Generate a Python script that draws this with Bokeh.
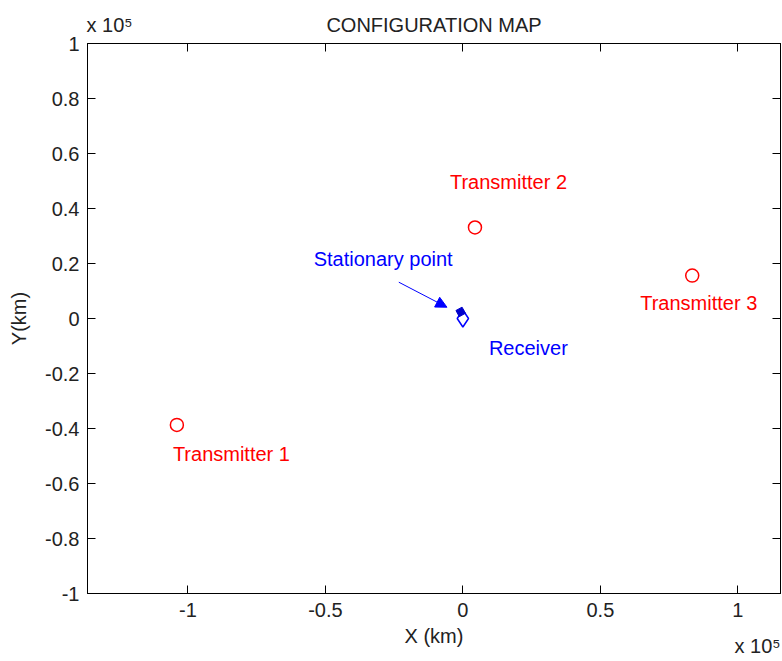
from bokeh.plotting import figure
from bokeh.models import (FixedTicker, CustomJSTickFormatter, LinearAxis,
                          Arrow, NormalHead, Range1d)
from bokeh.core.properties import value
from bokeh.embed import file_html
from bokeh.resources import INLINE

# ---- data (km) ----
tx_x = [-1.040e5, 0.044e5, 0.834e5]
tx_y = [-0.387e5, 0.331e5, 0.156e5]
tx_names = ["Transmitter 1", "Transmitter 2", "Transmitter 3"]
rx_x = [0.0]
rx_y = [0.0]
rx_name = ["Receiver"]
sp_x = [-0.008e5]
sp_y = [0.024e5]
sp_name = ["Stationary point"]
arrow_x = [-0.233e5, -0.058e5]
arrow_y = [0.132e5, 0.041e5]
x_ticks = [-1e5, -0.5e5, 0.0, 0.5e5, 1e5]
y_ticks = [-1e5, -0.8e5, -0.6e5, -0.4e5, -0.2e5, 0.0, 0.2e5, 0.4e5, 0.6e5, 0.8e5, 1e5]
title_text = "CONFIGURATION MAP"
exp_text = "x 10\u2075"

FONT = "Liberation Sans"
FS = "20px"
TXT = "#222222"
X0, X1 = -1.365e5, 1.155e5
PX = (X1 - X0) / 693.0  # km per pixel along x

p = figure(width=782, height=661, output_backend="svg", toolbar_location=None,
           x_range=Range1d(X0, X1), y_range=Range1d(-1e5, 1e5),
           frame_width=693, frame_height=550,
           min_border_left=87, min_border_right=2, min_border_top=43, min_border_bottom=68)
p.background_fill_color = "white"
p.border_fill_color = "white"
p.outline_line_color = "black"
p.xgrid.visible = False
p.ygrid.visible = False

fmt = CustomJSTickFormatter(code="return String(parseFloat((tick/1e5).toFixed(2)));")
blank = CustomJSTickFormatter(code="return '';")

def style_axis(ax, ticks, labels=True):
    ax.ticker = FixedTicker(ticks=ticks)
    ax.formatter = fmt if labels else blank
    ax.major_tick_in = 8
    ax.major_tick_out = 0
    ax.minor_tick_line_color = None
    ax.axis_line_color = "black"
    ax.major_tick_line_color = "black"
    ax.major_label_text_font = FONT
    ax.major_label_text_font_size = FS
    ax.major_label_text_color = TXT
    ax.axis_label_text_font = FONT
    ax.axis_label_text_font_size = FS
    ax.axis_label_text_font_style = "normal"
    ax.axis_label_text_color = TXT
    if not labels:
        ax.major_label_standoff = 0

def text_axis(ticks, texts, standoff):
    ax = LinearAxis(ticker=FixedTicker(ticks=ticks),
                    formatter=CustomJSTickFormatter(args=dict(t=texts), code="return t[index];"))
    ax.axis_line_color = None
    ax.major_tick_line_color = None
    ax.minor_tick_line_color = None
    ax.major_tick_in = 0
    ax.major_tick_out = 0
    ax.major_label_standoff = standoff
    ax.major_label_text_font = FONT
    ax.major_label_text_font_size = FS
    ax.major_label_text_color = TXT
    return ax

style_axis(p.xaxis[0], x_ticks)
style_axis(p.yaxis[0], y_ticks)
p.xaxis[0].axis_label = "X (km)"
p.yaxis[0].axis_label = "Y(km)"
p.xaxis[0].major_label_standoff = 9
p.xaxis[0].axis_label_standoff = 5
p.yaxis[0].major_label_standoff = 8
p.yaxis[0].axis_label_standoff = 12

top_ax = LinearAxis()
style_axis(top_ax, x_ticks, labels=False)
p.add_layout(top_ax, "above")
right_ax = LinearAxis()
style_axis(right_ax, y_ticks, labels=False)
p.add_layout(right_ax, "right")

# title and exponent markers (text-only axes, no lines / ticks)
p.add_layout(text_axis([X0 + 22 * PX, (X0 + X1) / 2], [exp_text, title_text], 8), "above")
p.add_layout(text_axis([X0 + 670 * PX], [exp_text], -15), "below")

# ---- marks ----
p.scatter(tx_x, tx_y, marker="circle", size=13, fill_color=None,
          line_color="#ff0000", line_width=1.5)
p.scatter(rx_x, rx_y, marker="diamond", size=17, fill_color=None,
          line_color="#0000ff", line_width=1.5)
p.scatter(sp_x, sp_y, marker="square", size=7, fill_color="#0000cc",
          line_color="#0000cc", angle=0.5)

p.add_layout(Arrow(x_start=arrow_x[0], y_start=arrow_y[0], x_end=arrow_x[1], y_end=arrow_y[1],
                   line_color="#0000ff", line_width=1,
                   end=NormalHead(size=11, fill_color="#0000ff", line_color="#0000ff")))

# ---- text labels ----
tx_off = [(-4, 29), (-25, -45), (-52, 27)]
for xv, yv, name, (dx, dy) in zip(tx_x, tx_y, tx_names, tx_off):
    p.text([xv], [yv], text=[name], x_offset=dx, y_offset=dy, text_color="#ff0000",
           text_font=value(FONT), text_font_size=FS, text_baseline="middle", text_align="left")
p.text(rx_x, rx_y, text=rx_name, x_offset=26, y_offset=29, text_color="#0000ff",
       text_font=value(FONT), text_font_size=FS, text_baseline="middle", text_align="left")
p.text(sp_x, sp_y, text=sp_name, x_offset=-147, y_offset=-53, text_color="#0000ff",
       text_font=value(FONT), text_font_size=FS, text_baseline="middle", text_align="left")

open("out.html", "w").write(file_html(p, INLINE))
